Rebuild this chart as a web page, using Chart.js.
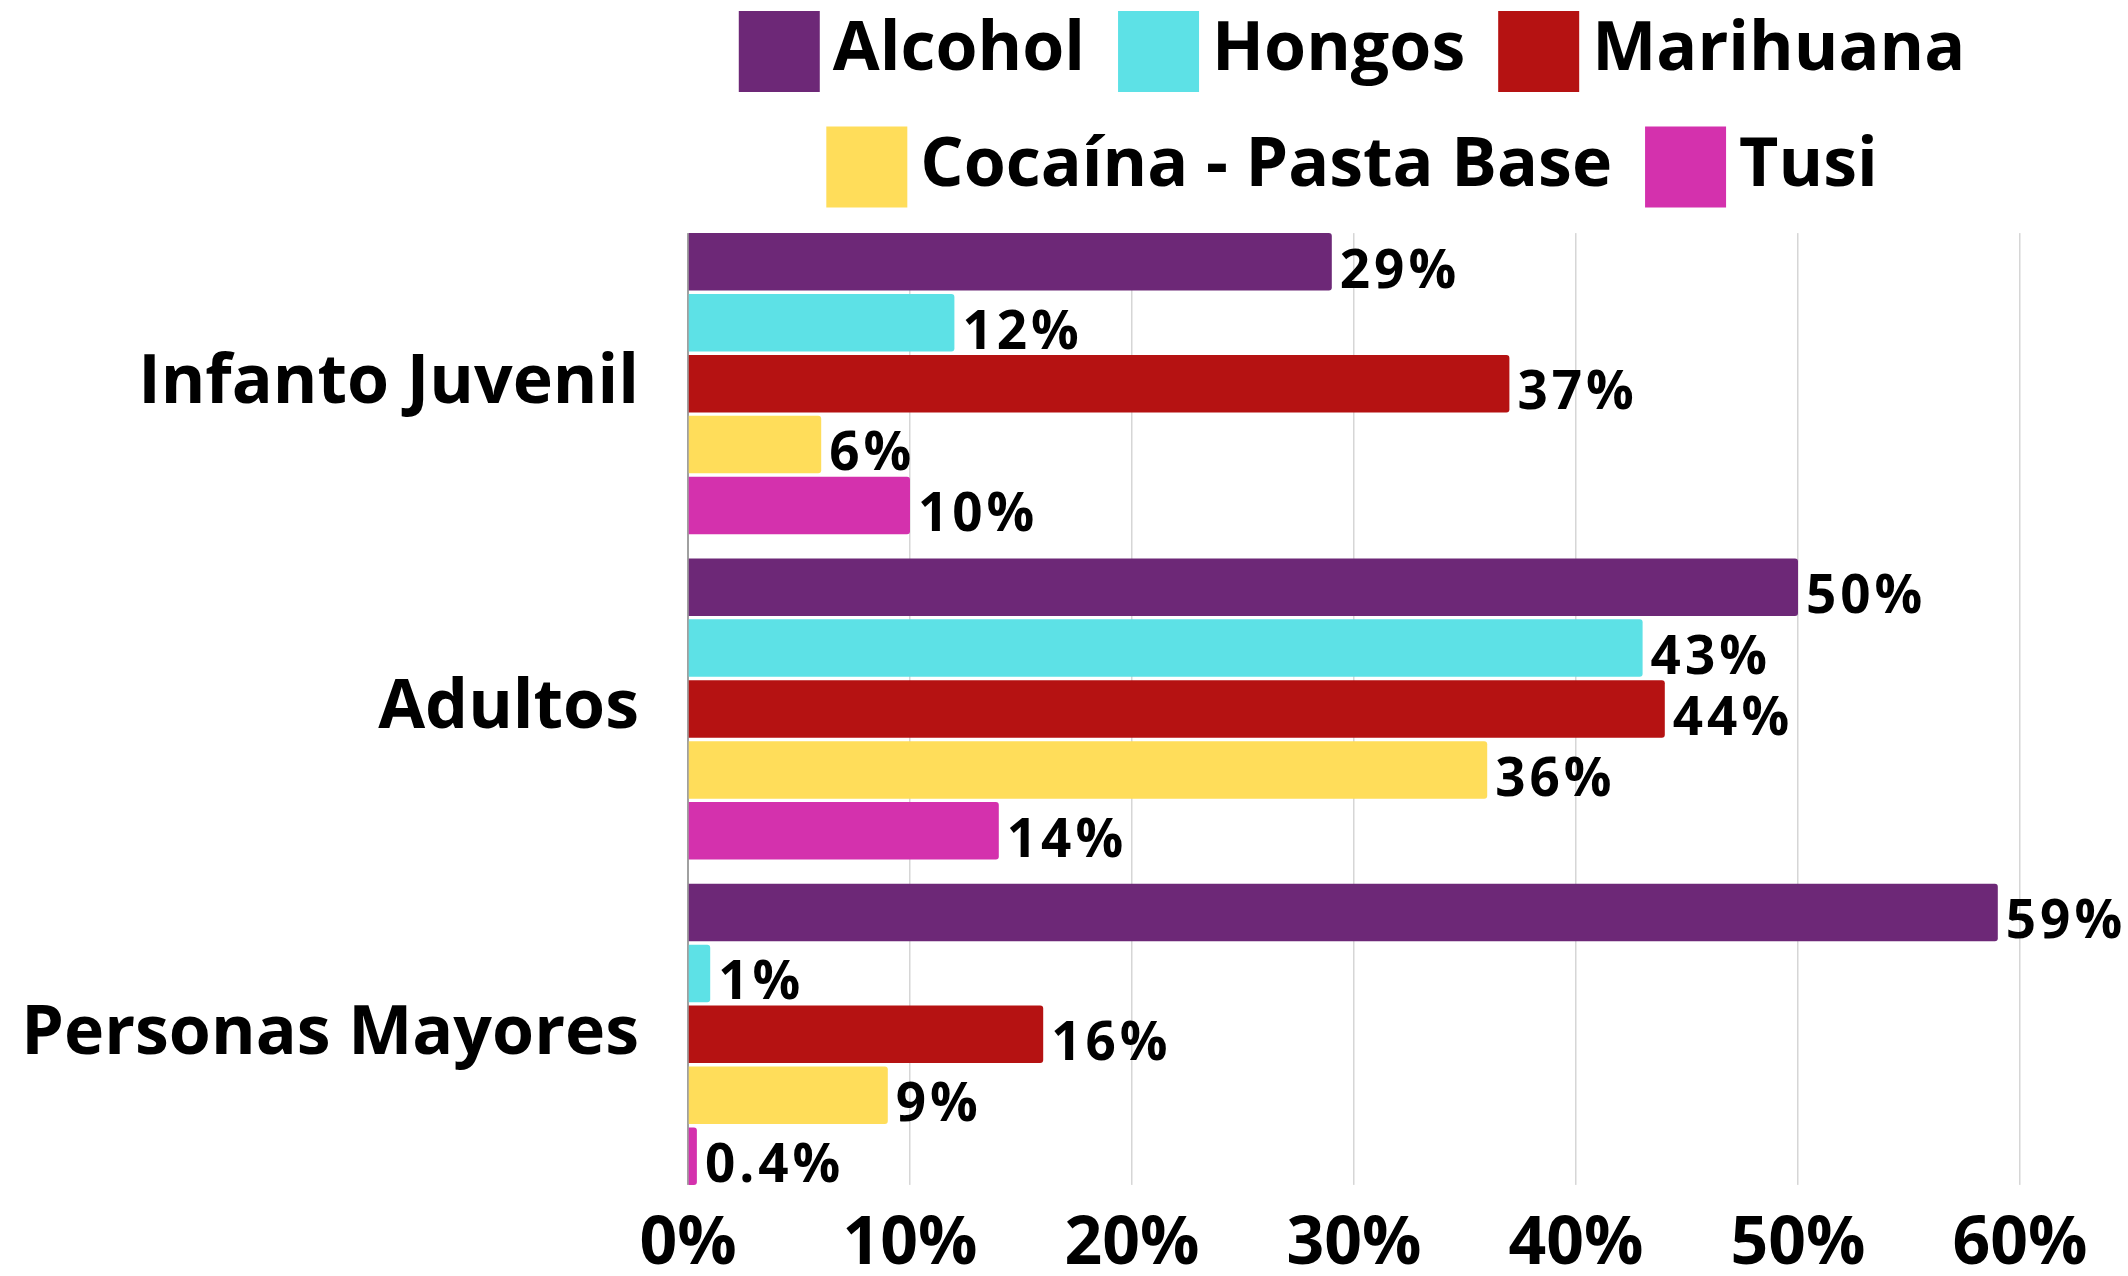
<!DOCTYPE html>
<html><head><meta charset="utf-8">
<script src="https://cdn.jsdelivr.net/npm/chart.js@4.4.1/dist/chart.umd.min.js"></script>
<style>html,body{margin:0;padding:0;background:#fff;}canvas{display:block;}</style>
</head><body>
<canvas id="c" width="2128" height="1276"></canvas>
<script>
const categories = ['Infanto Juvenil', 'Adultos', 'Personas Mayores'];
const seriesNames = ['Alcohol', 'Hongos', 'Marihuana', 'Cocaína - Pasta Base', 'Tusi'];
const alcohol = [29, 50, 59];
const hongos = [12, 43, 1];
const marihuana = [37, 44, 16];
const cocaina = [6, 36, 9];
const tusi = [10, 14, 0.4];
const xTickValues = [0, 10, 20, 30, 40, 50, 60];
const seriesColors = ['#6D2877', '#5DE1E6', '#B51212', '#FFDD5A', '#D431AD'];

const seriesValues = [alcohol, hongos, marihuana, cocaina, tusi];
const FONT = '"Open Sans", "Noto Sans", sans-serif';

function fmtPct(v) { return (Number.isInteger(v) ? v : v.toFixed(1)) + '%'; }

// hide grid segments outside the bar groups (reference grid spans bars only)
const gridTrim = {
  id: 'gridTrim',
  beforeDatasetsDraw(chart) {
    const ca = chart.chartArea, ctx = chart.ctx;
    const first = chart.getDatasetMeta(0).data[0];
    const lastMeta = chart.getDatasetMeta(chart.data.datasets.length - 1);
    const last = lastMeta.data[lastMeta.data.length - 1];
    const top = first.y - first.height / 2;
    const bottom = last.y + last.height / 2;
    ctx.save();
    ctx.fillStyle = '#fff';
    ctx.fillRect(ca.left - 4, ca.top - 2, ca.right - ca.left + 8, top - ca.top + 2);
    ctx.fillRect(ca.left - 4, bottom, ca.right - ca.left + 8, ca.bottom - bottom + 2);
    ctx.restore();
  }
};

const valueLabels = {
  id: 'valueLabels',
  afterDatasetsDraw(chart) {
    const ctx = chart.ctx;
    ctx.save();
    ctx.font = 'bold 53px ' + FONT;
    try { ctx.letterSpacing = '4px'; } catch (e) {}
    ctx.fillStyle = '#000';
    ctx.textAlign = 'left';
    ctx.textBaseline = 'alphabetic';
    chart.data.datasets.forEach((ds, di) => {
      const meta = chart.getDatasetMeta(di);
      meta.data.forEach((el, i) => {
        const p = el.getProps(['x', 'y', 'height'], true);
        ctx.fillText(fmtPct(ds.data[i]), p.x + 8, p.y + p.height / 2 - 3);
      });
    });
    ctx.restore();
  }
};

const customLegend = {
  id: 'customLegend',
  afterDraw(chart) {
    const ctx = chart.ctx, ca = chart.chartArea;
    const box = 81, gapText = 13, gapItem = 33, firstTop = 11, rowStep = 115.5;
    ctx.save();
    ctx.font = 'bold 68px ' + FONT;
    const items = chart.data.datasets.map(d => ({
      text: d.label, color: d.backgroundColor,
      w: box + gapText + ctx.measureText(d.label).width
    }));
    const maxW = ca.right - ca.left;
    const rows = [[]]; let cur = 0;
    items.forEach(it => {
      const row = rows[rows.length - 1];
      const add = (row.length ? gapItem : 0) + it.w;
      if (row.length && cur + add > maxW) { rows.push([it]); cur = it.w; }
      else { row.push(it); cur += add; }
    });
    const cx = (ca.left + ca.right) / 2 - 2;
    rows.forEach((row, r) => {
      const total = row.reduce((s, it) => s + it.w, 0) + gapItem * (row.length - 1);
      let x = cx - total / 2;
      const top = firstTop + r * rowStep;
      row.forEach(it => {
        ctx.fillStyle = it.color;
        ctx.fillRect(x, top, box, box);
        ctx.fillStyle = '#000';
        ctx.textAlign = 'left';
        ctx.textBaseline = 'alphabetic';
        ctx.fillText(it.text, x + box + gapText, top + 59);
        x += it.w + gapItem;
      });
    });
    ctx.restore();
  }
};

function draw() {
  new Chart(document.getElementById('c'), {
    type: 'bar',
    data: {
      labels: categories,
      datasets: seriesNames.map((name, i) => ({
        label: name,
        data: seriesValues[i],
        backgroundColor: seriesColors[i],
        borderWidth: 0,
        borderRadius: 3,
        borderSkipped: 'start',
        categoryPercentage: 0.936,
        barPercentage: 0.944
      }))
    },
    options: {
      indexAxis: 'y',
      responsive: false,
      animation: false,
      devicePixelRatio: 1,
      layout: { padding: { top: 221, right: 108, bottom: 0, left: 0 } },
      plugins: { legend: { display: false }, tooltip: { enabled: false } },
      scales: {
        x: {
          min: 0, max: 60,
          afterBuildTicks: s => { s.ticks = xTickValues.map(v => ({ value: v })); },
          afterFit: s => { s.height = 79; },
          grid: { color: '#d6d6d6', lineWidth: 1.5, drawTicks: false },
          border: { display: false },
          ticks: {
            padding: 9,
            color: '#000',
            font: { family: FONT, size: 66, weight: 'bold', lineHeight: 1.2 },
            callback: v => v + '%'
          }
        },
        y: {
          afterFit: s => { s.width = 688; s.paddingTop = 0; s.paddingBottom = 0; },
          grid: { display: false, drawTicks: false },
          border: { display: true, color: '#a0a0a0', width: 2 },
          ticks: {
            padding: 49,
            labelOffset: 0,
            color: '#000',
            font: { family: FONT, size: 68, weight: 'bold' }
          }
        }
      }
    },
    plugins: [gridTrim, valueLabels, customLegend]
  });
}

const fontReady = (document.fonts && document.fonts.load)
  ? Promise.all([document.fonts.load('bold 66px "Open Sans"'), document.fonts.load('bold 53px "Open Sans"')]).catch(() => {})
  : Promise.resolve();
fontReady.then(draw, draw);
</script>
</body></html>
